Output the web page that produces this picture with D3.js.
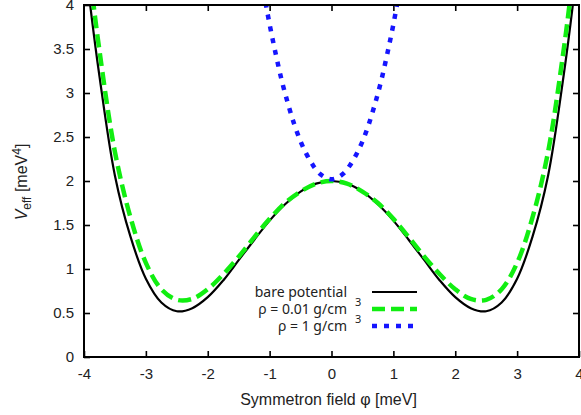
<!doctype html>
<html>
<head>
<meta charset="utf-8">
<script src="https://d3js.org/d3.v7.min.js"></script>
<style>
  body { margin: 0; background: #fff; }
  .tick text { font-family: "Liberation Sans", Arial, sans-serif; font-size: 15px; fill: #222; }
  .tick line { stroke: #000; stroke-width: 1.6; }
  .domain { display: none; }
</style>
</head>
<body>
<svg width="581" height="415"></svg>
<script>
// field values (meV) and effective potentials (meV^4)
var phi = [-4, -3.9, -3.75, -3.5, -3.25, -3, -2.75, -2.5, -2.25, -2, -1.75, -1.5, -1.25, -1, -0.75, -0.5, -0.25,
           0, 0.25, 0.5, 0.75, 1, 1.25, 1.5, 1.75, 2, 2.25, 2.5, 2.75, 3, 3.25, 3.5, 3.75, 3.9, 4];
var bare = [4.63, 4.00, 3.19, 2.06, 1.37, 0.89, 0.62, 0.52, 0.555, 0.68, 0.87, 1.10, 1.33, 1.55, 1.735, 1.88, 1.97,
            2.00, 1.97, 1.88, 1.735, 1.55, 1.33, 1.10, 0.87, 0.68, 0.555, 0.52, 0.62, 0.89, 1.37, 2.06, 3.19, 4.00, 4.63];
var lowDensity = [4.95, 4.32, 3.48, 2.33, 1.59, 1.07, 0.77, 0.65, 0.66, 0.77, 0.94, 1.14, 1.36, 1.57, 1.75, 1.88, 1.97,
                  2.00, 1.97, 1.88, 1.75, 1.57, 1.36, 1.14, 0.94, 0.77, 0.66, 0.65, 0.77, 1.07, 1.59, 2.33, 3.48, 4.32, 4.95];
var phiHigh = [-1.1, -1.0, -0.9, -0.8, -0.7, -0.6, -0.5, -0.4, -0.3, -0.2, -0.1,
               0, 0.1, 0.2, 0.3, 0.4, 0.5, 0.6, 0.7, 0.8, 0.9, 1.0, 1.1];
var highDensity = [4.16, 3.78, 3.44, 3.13, 2.87, 2.64, 2.45, 2.30, 2.18, 2.09, 2.04,
                   2.02, 2.04, 2.09, 2.18, 2.30, 2.45, 2.64, 2.87, 3.13, 3.44, 3.78, 4.16];
var xTicks = [-4, -3, -2, -1, 0, 1, 2, 3, 4];
var yTicks = [0, 0.5, 1, 1.5, 2, 2.5, 3, 3.5, 4];

var svg = d3.select("svg");
var pL = 84, pR = 579, pT = 5, pB = 357;

var x = d3.scaleLinear().domain([-4, 4]).range([pL, pR]);
var y = d3.scaleLinear().domain([0, 4]).range([pB, pT]);

svg.append("clipPath").attr("id", "plotclip")
   .append("rect")
   .attr("x", pL).attr("y", pT)
   .attr("width", pR - pL).attr("height", pB - pT);

// axes with inward ticks on all four sides
svg.append("g")
   .attr("transform", "translate(0," + pB + ")")
   .call(d3.axisBottom(x).tickValues(xTicks).tickSize(-6).tickSizeOuter(0).tickPadding(11)
         .tickFormat(function(d) { return d; }));
svg.append("g")
   .attr("transform", "translate(0," + pT + ")")
   .call(d3.axisTop(x).tickValues(xTicks.slice(1, -1)).tickSize(-6).tickSizeOuter(0).tickFormat(""));
svg.append("g")
   .attr("transform", "translate(" + pL + ",0)")
   .call(d3.axisLeft(y).tickValues(yTicks).tickSize(-6).tickSizeOuter(0).tickPadding(10)
         .tickFormat(function(d) { return d; }));
svg.append("g")
   .attr("transform", "translate(" + pR + ",0)")
   .call(d3.axisRight(y).tickValues(yTicks.slice(1, -1)).tickSize(-6).tickSizeOuter(0).tickFormat(""));

var line = function(xs) {
    return d3.line()
        .x(function(d, i) { return x(xs[i]); })
        .y(function(d) { return y(d); })
        .curve(d3.curveCatmullRom.alpha(0.5));
};

var plot = svg.append("g").attr("clip-path", "url(#plotclip)");

plot.append("path")
    .attr("d", line(phi)(bare))
    .attr("fill", "none")
    .attr("stroke", "#000")
    .attr("stroke-width", 2.2);

plot.append("path")
    .attr("d", line(phi)(lowDensity))
    .attr("fill", "none")
    .attr("stroke", "#11ee11")
    .attr("stroke-width", 4.5)
    .attr("stroke-dasharray", "13,6");

plot.append("path")
    .attr("d", line(phiHigh)(highDensity))
    .attr("fill", "none")
    .attr("stroke", "#1515ff")
    .attr("stroke-width", 4.5)
    .attr("stroke-dasharray", "5,7");

// frame
svg.append("rect")
   .attr("x", pL).attr("y", pT)
   .attr("width", pR - pL).attr("height", pB - pT)
   .attr("fill", "none")
   .attr("stroke", "#000")
   .attr("stroke-width", 2);

// axis titles
svg.append("text")
   .attr("x", (pL + pR) / 2 - 3)
   .attr("y", 405)
   .attr("text-anchor", "middle")
   .style("font-family", "Liberation Sans, Arial, sans-serif")
   .style("font-size", "16px")
   .attr("fill", "#222")
   .text("Symmetron field \u03c6 [meV]");

var ylab = svg.append("text")
   .attr("transform", "translate(27,182) rotate(-90)")
   .attr("text-anchor", "middle")
   .style("font-family", "Liberation Sans, Arial, sans-serif")
   .style("font-size", "16px")
   .attr("fill", "#222");
ylab.append("tspan").style("font-style", "italic").text("V");
ylab.append("tspan").attr("dy", 4).style("font-size", "12px").text("eff");
ylab.append("tspan").attr("dy", -4).text(" [meV");
ylab.append("tspan").attr("dy", -6).style("font-size", "12px").text("4");
ylab.append("tspan").attr("dy", 6).text("]");

// legend
var legendNames = ["bare potential", "\u03c1 = 0.01 g/cm", "\u03c1 = 1 g/cm"];
var legendColors = ["#000", "#11ee11", "#1515ff"];
var legendDash = [null, "13,6", "5,7"];
var legendWidth = [2.2, 4.5, 4.5];
var legendY = [292, 309, 326];

var legend = svg.append("g");
legendNames.forEach(function(name, i) {
    legend.append("text")
        .attr("x", 347)
        .attr("y", legendY[i] + 5)
        .attr("text-anchor", "end")
        .style("font-family", "Noto Sans, Open Sans, sans-serif")
        .style("font-size", "14px")
        .attr("fill", "#222")
        .text(name);
    if (i > 0) {
        legend.append("text")
            .attr("x", 355)
            .attr("y", legendY[i] - 3)
            .style("font-family", "Noto Sans, Open Sans, sans-serif")
            .style("font-size", "11px")
            .attr("fill", "#222")
            .text("3");
    }
    legend.append("line")
        .attr("x1", 372).attr("x2", 417)
        .attr("y1", legendY[i]).attr("y2", legendY[i])
        .attr("stroke", legendColors[i])
        .attr("stroke-width", legendWidth[i])
        .attr("stroke-dasharray", legendDash[i]);
});
</script>
</body>
</html>
